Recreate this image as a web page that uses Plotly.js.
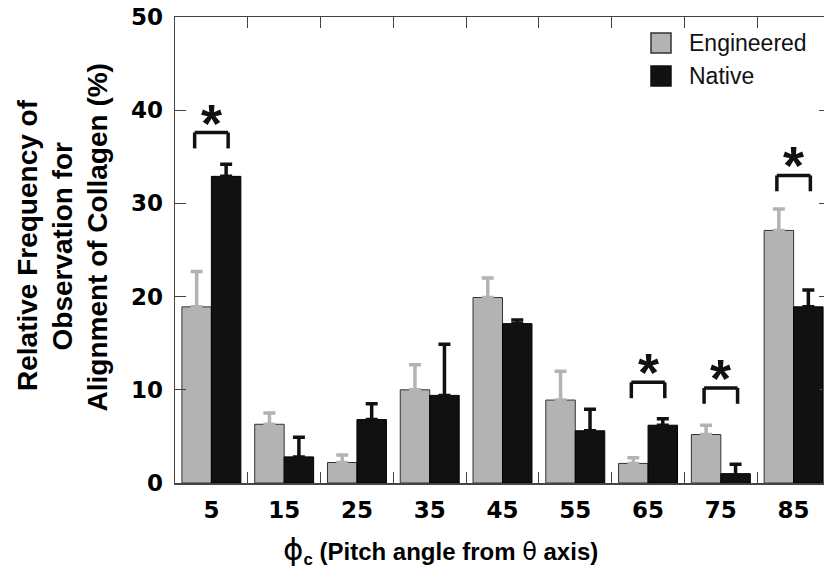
<!DOCTYPE html>
<html>
<head>
<meta charset="utf-8">
<script src="https://cdn.plot.ly/plotly-3.0.1.min.js"></script>
<style>
html, body { margin:0; padding:0; overflow:hidden; background:#fff; }
#chart { width:840px; height:574px; }
</style>
</head>
<body>
<div id="chart"></div>
<script>
// ---- data ----
const angles = ['5','15','25','35','45','55','65','75','85'];
const engineered = [18.9, 6.3, 2.2, 10.0, 19.9, 8.9, 2.1, 5.2, 27.1];
const engineeredErr = [3.8, 1.2, 0.8, 2.7, 2.1, 3.1, 0.6, 1.0, 2.3];
const native = [32.9, 2.8, 6.8, 9.4, 17.1, 5.6, 6.2, 1.0, 18.9];
const nativeErr = [1.3, 2.1, 1.7, 5.5, 0.4, 2.3, 0.7, 1.0, 1.8];
const nativeErrMinus = [0, 0, 0, 0, 0, 0, 0, 1.0, 0];
const sigAngles = ['5','65','75','85'];
const sigHeights = [37.6, 10.8, 10.2, 33.0];
const seriesNames = ['Engineered','Native'];
const yTitleLines = ['Relative Frequency of','Observation for','Alignment of Collagen (%)'];

// ---- styles ----
const engColor = '#b3b3b3';
const natColor = '#111111';
const numFont = {family:'DejaVu Sans', size:23, weight:'bold', color:'#000'};

const traces = [
  {
    type:'bar', name:seriesNames[0], x:angles, y:engineered,
    marker:{color:engColor, line:{color:'#333', width:1}},
    error_y:{type:'data', array:engineeredErr, symmetric:false, arrayminus:engineered.map(()=>0),
             color:engColor, thickness:3.5, width:6}
  },
  {
    type:'bar', name:seriesNames[1], x:angles, y:native,
    marker:{color:natColor, line:{color:'#000', width:1}},
    error_y:{type:'data', array:nativeErr, symmetric:false, arrayminus:nativeErrMinus,
             color:natColor, thickness:3.5, width:6}
  }
];

// plot area in px (for paper conversions)
const L = 175, R = 830, T = 17, B = 483;
const px2paperX = p => (p - L) / (R - L);
const px2paperY = p => (B - p) / (B - T);

const shapes = [];
const annotations = [];

// significance brackets
const half = 0.23, leg = 1.7;
sigAngles.forEach((a, k) => {
  const i = angles.indexOf(a);
  const h = sigHeights[k];
  const ln = {color:'#111', width:3.5};
  shapes.push({type:'line', xref:'x', yref:'y', x0:i-half, x1:i+half+0.0001, y0:h, y1:h, line:ln});
  shapes.push({type:'line', xref:'x', yref:'y', x0:i-half, x1:i-half, y0:h, y1:h-leg, line:ln});
  shapes.push({type:'line', xref:'x', yref:'y', x0:i+half+0.0001, x1:i+half+0.0001, y0:h, y1:h-leg, line:ln});
  annotations.push({xref:'x', yref:'y', x:i+0.0001, y:h, text:'*', showarrow:false,
    xanchor:'center', yanchor:'bottom', yshift:-22,
    font:{family:'Liberation Sans', size:54, weight:'bold', color:'#111'}});
});

// legend (custom)
const legendRows = [{y0:33, y1:53, fill:engColor, line:'#333'}, {y0:66, y1:86, fill:natColor, line:'#111'}];
legendRows.forEach((r, k) => {
  shapes.push({type:'rect', xref:'paper', yref:'paper',
    x0:px2paperX(651), x1:px2paperX(671), y0:px2paperY(r.y1), y1:px2paperY(r.y0),
    fillcolor:r.fill, line:{color:r.line, width:1.5}});
  annotations.push({xref:'paper', yref:'paper', x:px2paperX(687), y:px2paperY((r.y0+r.y1)/2),
    text:seriesNames[k], showarrow:false, xanchor:'left', yanchor:'middle',
    font:{family:'Liberation Sans', size:23, color:'#111'}});
});

// y title (three lines)
const yLineX = [27, 61.5, 96.5];
const yLineCenter = [245, 246, 238];
yTitleLines.forEach((t, k) => {
  annotations.push({xref:'paper', yref:'paper', x:px2paperX(yLineX[k]), y:px2paperY(yLineCenter[k]),
    text:t, showarrow:false, textangle:-90, xanchor:'center', yanchor:'middle',
    font:{family:'Liberation Sans', size:28, weight:'bold', color:'#000'}});
});

// x title
annotations.push({xref:'paper', yref:'paper', x:px2paperX(440), y:px2paperY(550),
  text:'<span style="font-weight:normal;font-family:DejaVu Sans;font-size:31px">ϕ</span><sub>c</sub> (Pitch angle from <span style="font-weight:normal;font-family:DejaVu Sans">θ</span> axis)',
  showarrow:false, xanchor:'center', yanchor:'middle',
  font:{family:'Liberation Sans', size:24, weight:'bold', color:'#000'}});

const layout = {
  width:840, height:574,
  margin:{l:L, r:840-R, t:T, b:574-B, pad:0},
  paper_bgcolor:'#fff', plot_bgcolor:'#fff',
  showlegend:false,
  barmode:'group', bargap:0.19, bargroupgap:0,
  xaxis:{type:'category', range:[-0.5, 8.5], tickson:'boundaries',
    ticks:'inside', ticklen:11, tickwidth:1.2, tickcolor:'#444',
    showline:true, linecolor:'#444', linewidth:1.5, mirror:'ticks',
    showgrid:false, zeroline:false, tickfont:numFont, ticklabelstandoff:6},
  yaxis:{range:[0,50], dtick:10, tick0:0,
    ticks:'inside', ticklen:11, tickwidth:1.2, tickcolor:'#444',
    showline:true, linecolor:'#444', linewidth:1.5, mirror:'ticks',
    showgrid:false, zeroline:false, tickfont:numFont, ticklabelstandoff:6},
  shapes:shapes,
  annotations:annotations
};

Plotly.newPlot('chart', traces, layout, {displayModeBar:false, staticPlot:true});
</script>
</body>
</html>
